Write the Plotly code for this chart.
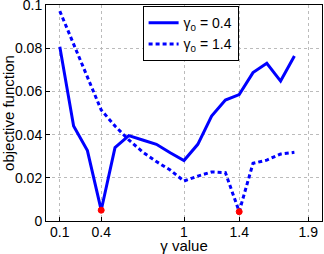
import plotly.graph_objects as go

gamma = [0.1, 0.2, 0.3, 0.4, 0.5, 0.6, 0.7, 0.8, 0.9, 1.0, 1.1, 1.2, 1.3, 1.4, 1.5, 1.6, 1.7, 1.8]
obj_g04 = [0.0807, 0.0440, 0.0326, 0.0050, 0.0340, 0.0395, 0.0375, 0.0355, 0.0316, 0.0280,
           0.0355, 0.0486, 0.0560, 0.0585, 0.0687, 0.0730, 0.0648, 0.0764]
obj_g14 = [0.0972, 0.0820, 0.0660, 0.0514, 0.0440, 0.0375, 0.0320, 0.0275, 0.0236, 0.0185,
           0.0208, 0.0227, 0.0224, 0.0043, 0.0267, 0.0282, 0.0310, 0.0318]
min_x = [0.4, 1.4]
min_y = [0.0050, 0.0043]
xticks = [0.1, 0.4, 1, 1.4, 1.9]
yticks = [0, 0.02, 0.04, 0.06, 0.08, 0.1]
ytext = ["0", "0.02", "0.04", "0.06", "0.08", "0.1"]

font = "Liberation Sans, Arial, sans-serif"
fig = go.Figure()
fig.add_trace(go.Scatter(x=gamma, y=obj_g04, mode="lines", name="γ<sub>0</sub> = 0.4",
                         line=dict(color="#0000ff", width=3)))
fig.add_trace(go.Scatter(x=gamma, y=obj_g14, mode="lines", name="γ<sub>0</sub> = 1.4",
                         line=dict(color="#0000ff", width=3, dash="4px,3px")))
fig.add_trace(go.Scatter(x=min_x, y=min_y, mode="markers", showlegend=False,
                         marker=dict(color="#ff0000", size=6, line=dict(color="#ff0000", width=1))))

axis_common = dict(showline=True, linecolor="black", linewidth=1, mirror=True,
                   showgrid=True, gridcolor="#bbbbbb", griddash="dot", gridwidth=1,
                   ticks="inside", ticklen=4, tickcolor="black", zeroline=False,
                   automargin=False, ticklabeloverflow="allow",
                   tickfont=dict(family=font, size=14, color="black"))
fig.update_xaxes(range=[0, 2], tickvals=xticks, ticktext=[str(t) for t in xticks],
                 ticklabelstandoff=-2,
                 title=dict(text="γ value", font=dict(family=font, size=15, color="black"), standoff=0),
                 **axis_common)
fig.update_yaxes(range=[0, 0.10001], tickvals=yticks, ticktext=ytext,
                 title=dict(text="objective function", font=dict(family=font, size=15, color="black"), standoff=0),
                 **axis_common)
fig.update_layout(width=324, height=254, margin=dict(l=46, r=2, t=5, b=33),
                  plot_bgcolor="white", paper_bgcolor="white",
                  font=dict(family=font, size=14, color="black"),
                  legend=dict(x=0.35, y=0.995, xanchor="left", yanchor="top",
                              bgcolor="white", bordercolor="black", borderwidth=1,
                              font=dict(family=font, size=14, color="black"),
                              itemwidth=30, tracegroupgap=0))
fig.write_html("out.html", config={"displayModeBar": False},
               post_script="document.body.style.margin='0';document.body.style.padding='0';")
